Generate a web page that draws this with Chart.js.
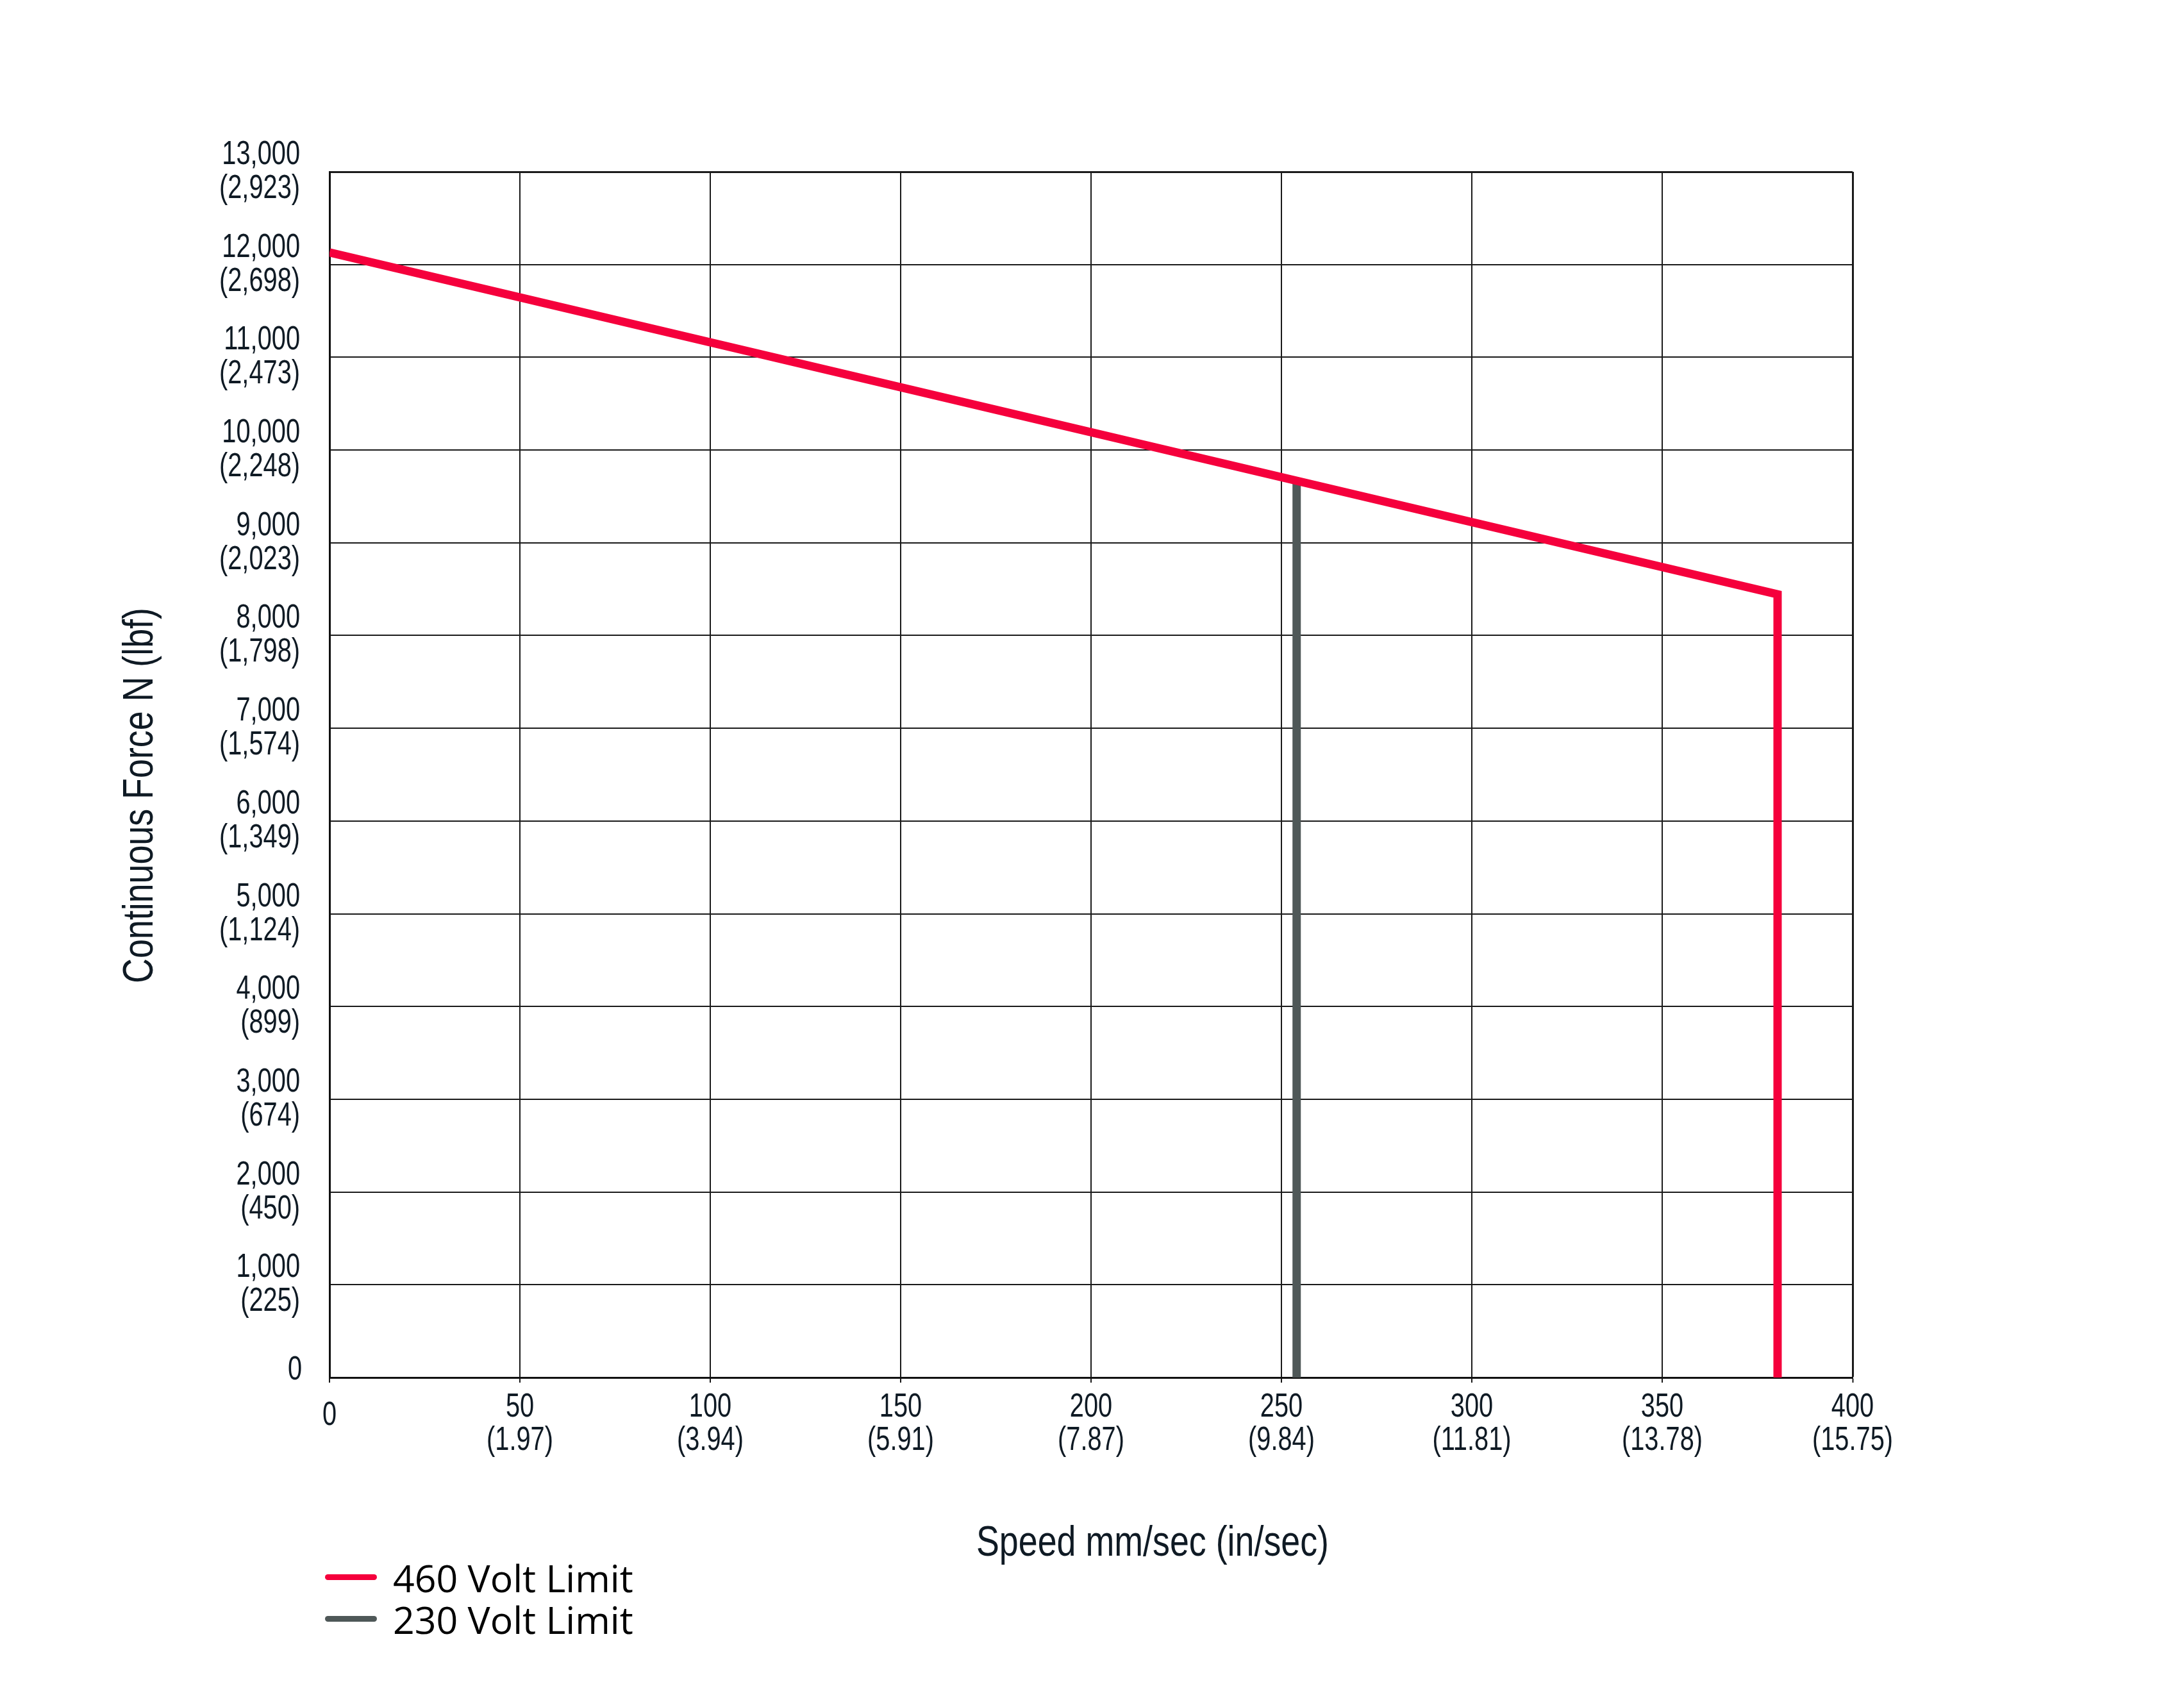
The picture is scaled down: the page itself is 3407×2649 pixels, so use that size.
<!DOCTYPE html>
<html>
<head>
<meta charset="utf-8">
<script src="https://cdn.jsdelivr.net/npm/chart.js@4/dist/chart.umd.min.js"></script>
<style>
  html, body { margin: 0; padding: 0; background: #ffffff; }
  #wrap { position: relative; width: 3407px; height: 2649px; }
  #legend { position: absolute; left: 507px; top: 2428px; font-family: 'Open Sans', 'Noto Sans', sans-serif; font-size: 59px; color: #000; }
  .item { display: flex; align-items: center; height: 65px; }
  .swatch { display: inline-block; width: 81px; height: 9px; border-radius: 5px; margin-right: 25px; }
</style>
</head>
<body>
<div id="wrap">
  <canvas id="c" width="3407" height="2649"></canvas>
  <div id="legend"></div>
</div>
<script>
// ---- data ----
const xTickMm  = ['0', '50', '100', '150', '200', '250', '300', '350', '400'];
const xTickIn  = ['', '(1.97)', '(3.94)', '(5.91)', '(7.87)', '(9.84)', '(11.81)', '(13.78)', '(15.75)'];
const yTickN   = ['0', '1,000', '2,000', '3,000', '4,000', '5,000', '6,000', '7,000', '8,000', '9,000', '10,000', '11,000', '12,000', '13,000'];
const yTickLbf = ['', '(225)', '(450)', '(674)', '(899)', '(1,124)', '(1,349)', '(1,574)', '(1,798)', '(2,023)', '(2,248)', '(2,473)', '(2,698)', '(2,923)'];

const speed460 = [0, 380.3, 380.3];
const force460 = [12130, 8445, 0];
const speed230 = [254, 254];
const force230 = [9667, 0];

const seriesNames = ['460 Volt Limit', '230 Volt Limit'];
const seriesColors = ['#f5003c', '#4f5858'];

const xTitle = 'Speed mm/sec (in/sec)';
const yTitle = 'Continuous Force N (lbf)';

const TXT = '#0f1a24';
const FONT = "'Liberation Sans', Arial, sans-serif";

function pts(xs, ys) { return xs.map((x, i) => ({ x: x, y: ys[i] })); }

// condensed text helper (the original uses a condensed grotesque face)
function condText(ctx, text, x, y, align, sx) {
  ctx.save();
  ctx.translate(x, y);
  ctx.scale(sx, 1);
  ctx.textAlign = align;
  ctx.textBaseline = 'alphabetic';
  ctx.fillText(text, 0, 0);
  ctx.restore();
}

const labelsPlugin = {
  id: 'condensedLabels',
  afterDraw(chart) {
    const ctx = chart.ctx;
    const xs = chart.scales.x, ys = chart.scales.y;
    ctx.save();
    ctx.fillStyle = TXT;
    ctx.font = '51px ' + FONT;
    const SX = 0.78;
    // y tick labels
    ys.ticks.forEach((t, i) => {
      const p = ys.getPixelForTick(i);
      const right = ys.right - 46;
      if (yTickLbf[i]) {
        condText(ctx, yTickN[i], right, p - 12, 'right', SX);
        condText(ctx, yTickLbf[i], right, p + 41, 'right', SX);
      } else {
        condText(ctx, yTickN[i], right + 3, p + 3, 'right', SX);
      }
    });
    // x tick labels
    xs.ticks.forEach((t, i) => {
      const p = xs.getPixelForTick(i);
      const top = xs.top;
      if (xTickIn[i]) {
        condText(ctx, xTickMm[i], p, top + 61, 'center', SX);
        condText(ctx, xTickIn[i], p, top + 113, 'center', SX);
      } else {
        condText(ctx, xTickMm[i], p, top + 74, 'center', SX);
      }
    });
    // axis titles
    ctx.font = '66px ' + FONT;
    condText(ctx, xTitle, 1798, 2427, 'center', 0.815);
    ctx.translate(238, 1241);
    ctx.rotate(-Math.PI / 2);
    condText(ctx, yTitle, 0, 0, 'center', 0.815);
    ctx.restore();
  }
};

const chart = new Chart(document.getElementById('c'), {
  type: 'scatter',
  data: {
    datasets: [
      { label: seriesNames[0], data: pts(speed460, force460), showLine: true, borderColor: seriesColors[0], backgroundColor: seriesColors[0], borderWidth: 13, pointRadius: 0, borderJoinStyle: 'miter', tension: 0 },
      { label: seriesNames[1], data: pts(speed230, force230), showLine: true, borderColor: seriesColors[1], backgroundColor: seriesColors[1], borderWidth: 13, pointRadius: 0, tension: 0 }
    ]
  },
  options: {
    responsive: false,
    animation: false,
    devicePixelRatio: 1,
    layout: { padding: { top: 268, right: 517, left: 0, bottom: 0 } },
    plugins: { legend: { display: false }, tooltip: { enabled: false } },
    scales: {
      x: {
        type: 'linear', min: 0, max: 400,
        afterFit(s) { s.height = 500; },
        border: { display: true, color: '#111', width: 3 },
        grid: {
          color: '#1a1a1a',
          lineWidth: (c) => (c.tick && c.tick.value === 400 ? 3 : 2),
          drawTicks: true, tickLength: 8, tickColor: '#1a1a1a', tickWidth: 2
        },
        ticks: { stepSize: 50, display: false, autoSkip: false, maxRotation: 0 }
      },
      y: {
        type: 'linear', min: 0, max: 13000,
        afterFit(s) { s.width = 514; },
        border: { display: true, color: '#111', width: 3 },
        grid: {
          color: '#1a1a1a',
          lineWidth: (c) => (c.tick && c.tick.value === 13000 ? 3 : 2),
          drawTicks: false
        },
        ticks: { stepSize: 1000, display: false, autoSkip: false }
      }
    }
  },
  plugins: [labelsPlugin]
});

// HTML legend built from the chart's datasets
const lg = document.getElementById('legend');
chart.data.datasets.forEach(ds => {
  const row = document.createElement('div');
  row.className = 'item';
  const sw = document.createElement('span');
  sw.className = 'swatch';
  sw.style.background = ds.borderColor;
  const tx = document.createElement('span');
  tx.textContent = ds.label;
  row.appendChild(sw);
  row.appendChild(tx);
  lg.appendChild(row);
});
</script>
</body>
</html>
